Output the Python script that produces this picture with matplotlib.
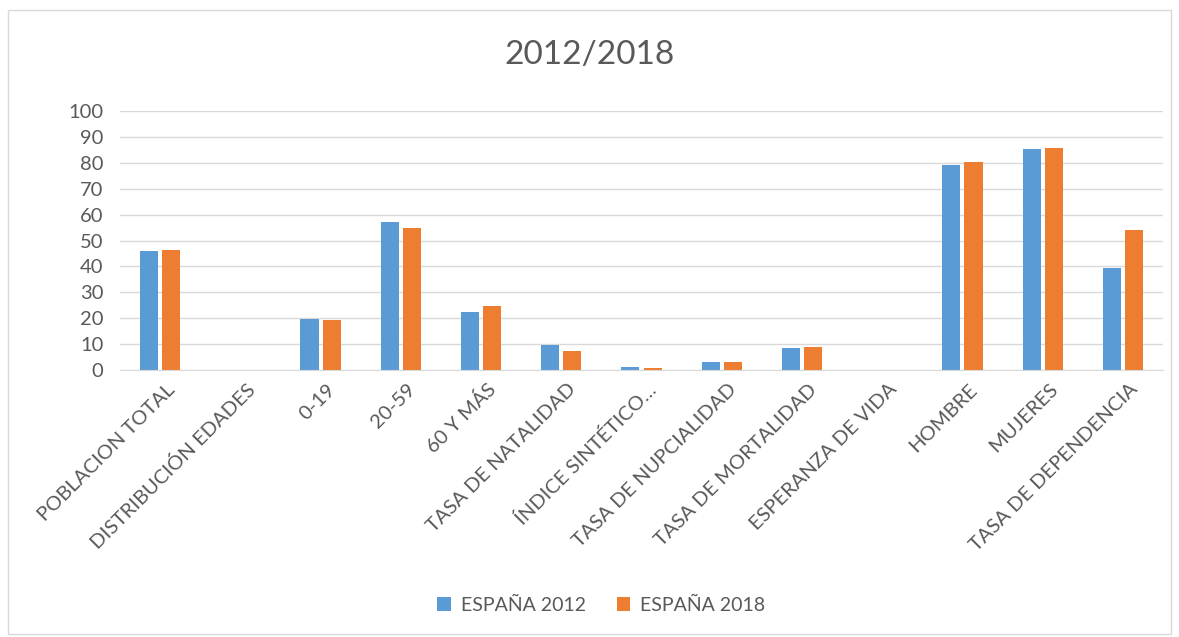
import numpy as np
import matplotlib.pyplot as plt
import matplotlib.transforms as mtransforms
from matplotlib.patches import Rectangle

plt.rcParams['font.family'] = ['Lato', 'DejaVu Sans']

categories = ["POBLACION TOTAL", "DISTRIBUCIÓN EDADES", "0-19", "20-59", "60 Y MÁS",
              "TASA DE NATALIDAD", "ÍNDICE SINTÉTICO…", "TASA DE NUPCIALIDAD",
              "TASA DE MORTALIDAD", "ESPERANZA DE VIDA", "HOMBRE", "MUJERES",
              "TASA DE DEPENDENCIA"]
espana_2012 = [45.8, 0, 19.6, 57.1, 22.4, 9.8, 1.1, 3.1, 8.5, 0, 79.2, 85.2, 39.3]
espana_2018 = [46.3, 0, 19.3, 54.8, 24.8, 7.5, 0.9, 3.1, 8.75, 0, 80.3, 85.7, 53.9]

blue = "#5b9bd5"
orange = "#ed7d31"
txt = "#595959"

fig = plt.figure(figsize=(11.79, 6.37), dpi=100)
fig.patches.append(Rectangle((0.007, 0.005), 0.986, 0.98, transform=fig.transFigure,
                             fill=False, edgecolor="#d9d9d9", linewidth=1))
ax = fig.add_axes([120/1179, 1-370/637, (1163-120)/1179, (370-111)/637])

x = np.arange(len(categories))
w = 0.225
ax.bar(x - 0.138, espana_2012, w, color=blue, label="ESPAÑA 2012")
ax.bar(x + 0.138, espana_2018, w, color=orange, label="ESPAÑA 2018")

ax.set_ylim(0, 100)
ax.set_xlim(-0.5, len(categories) - 0.5)
ax.set_yticks(range(0, 101, 10))
ax.yaxis.grid(True, color="#d9d9d9", linewidth=1)
ax.set_axisbelow(True)
for s in ["top", "right", "left"]:
    ax.spines[s].set_visible(False)
ax.spines["bottom"].set_color("#d9d9d9")
ax.tick_params(length=0, labelsize=14.5, colors=txt)
ax.set_xticks(x)
ax.set_xticklabels(categories, rotation=45, ha="right", va="center", rotation_mode="anchor")
ax.tick_params(axis="x", pad=12)
ax.tick_params(axis="y", pad=12)
shift = mtransforms.ScaledTranslation(12/100, 0, fig.dpi_scale_trans)
for lab in ax.get_xticklabels():
    lab.set_transform(lab.get_transform() + shift)

fig.text(0.5, 1-55/637, "2012/2018", ha="center", va="center", fontsize=24, color=txt)
fig.legend(loc="center", bbox_to_anchor=(0.51, 1-605/637), ncol=2, frameon=False,
           fontsize=14, labelcolor=txt, handlelength=0.7, handleheight=0.7,
           columnspacing=1.6, handletextpad=0.5)

fig.savefig("out.png", dpi=100)
